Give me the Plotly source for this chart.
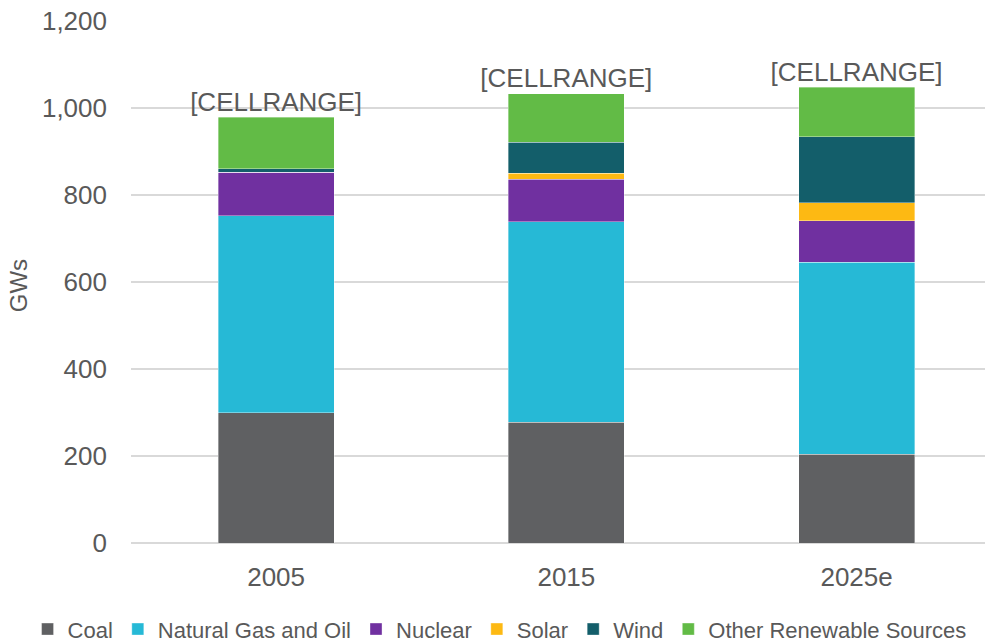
import plotly.graph_objects as go

years = ["2005", "2015", "2025e"]
coal = [300, 278, 204]
gas = [452, 460, 441]
nuclear = [100, 98, 96]
solar = [0, 14, 41]
wind = [8, 71, 152]
other = [119, 112, 114]
label_text = "[CELLRANGE]"
y_title = "GWs"

series = [
    ("Coal", coal, "#5f6062"),
    ("Natural Gas and Oil", gas, "#26b9d6"),
    ("Nuclear", nuclear, "#7030a0"),
    ("Solar", solar, "#fdb913"),
    ("Wind", wind, "#135e6a"),
    ("Other Renewable Sources", other, "#62bb46"),
]

FONT = "Liberation Sans, Arial, sans-serif"
GREY = "#595959"

fig = go.Figure()
for name, vals, col in series:
    fig.add_trace(go.Bar(
        x=years, y=vals, name=name, width=0.4,
        marker=dict(color=col, line=dict(color="rgba(255,255,255,0.6)", width=0.6)),
    ))

totals = [sum(v) for v in zip(coal, gas, nuclear, solar, wind, other)]
fig.add_trace(go.Scatter(
    x=years, y=totals, mode="text", text=[label_text] * len(years),
    textposition="top center", showlegend=False,
    textfont=dict(family=FONT, size=26, color=GREY), cliponaxis=False,
))

fig.add_annotation(
    text=y_title, xref="paper", yref="paper", x=-0.131, y=0.492,
    xanchor="center", yanchor="middle", textangle=-90, showarrow=False,
    font=dict(family=FONT, size=24, color=GREY),
)

fig.update_layout(
    barmode="stack",
    width=993, height=641,
    margin=dict(l=123, r=8, t=13, b=106, autoexpand=False),
    paper_bgcolor="white", plot_bgcolor="white",
    font=dict(family=FONT, size=26, color=GREY),
    showlegend=True,
    legend=dict(orientation="h", x=-0.12, xanchor="left", y=-0.125, yanchor="top",
                font=dict(size=22, color=GREY), itemwidth=30, tracegroupgap=0,
                traceorder="normal"),
    xaxis=dict(range=[-0.5, 2.47], showgrid=False, showline=False, zeroline=False,
               tickfont=dict(size=26, color=GREY), ticklabelstandoff=16),
    yaxis=dict(range=[0, 1200], dtick=200, tickformat=",", showgrid=True,
               gridcolor="#d9d9d9", gridwidth=1.5, zeroline=True, zerolinecolor="#d9d9d9",
               zerolinewidth=1.5, showline=False, tickfont=dict(size=26, color=GREY),
               ticklabelstandoff=23, ticklabeloverflow="allow"),
)

fig.write_html("out.html")
